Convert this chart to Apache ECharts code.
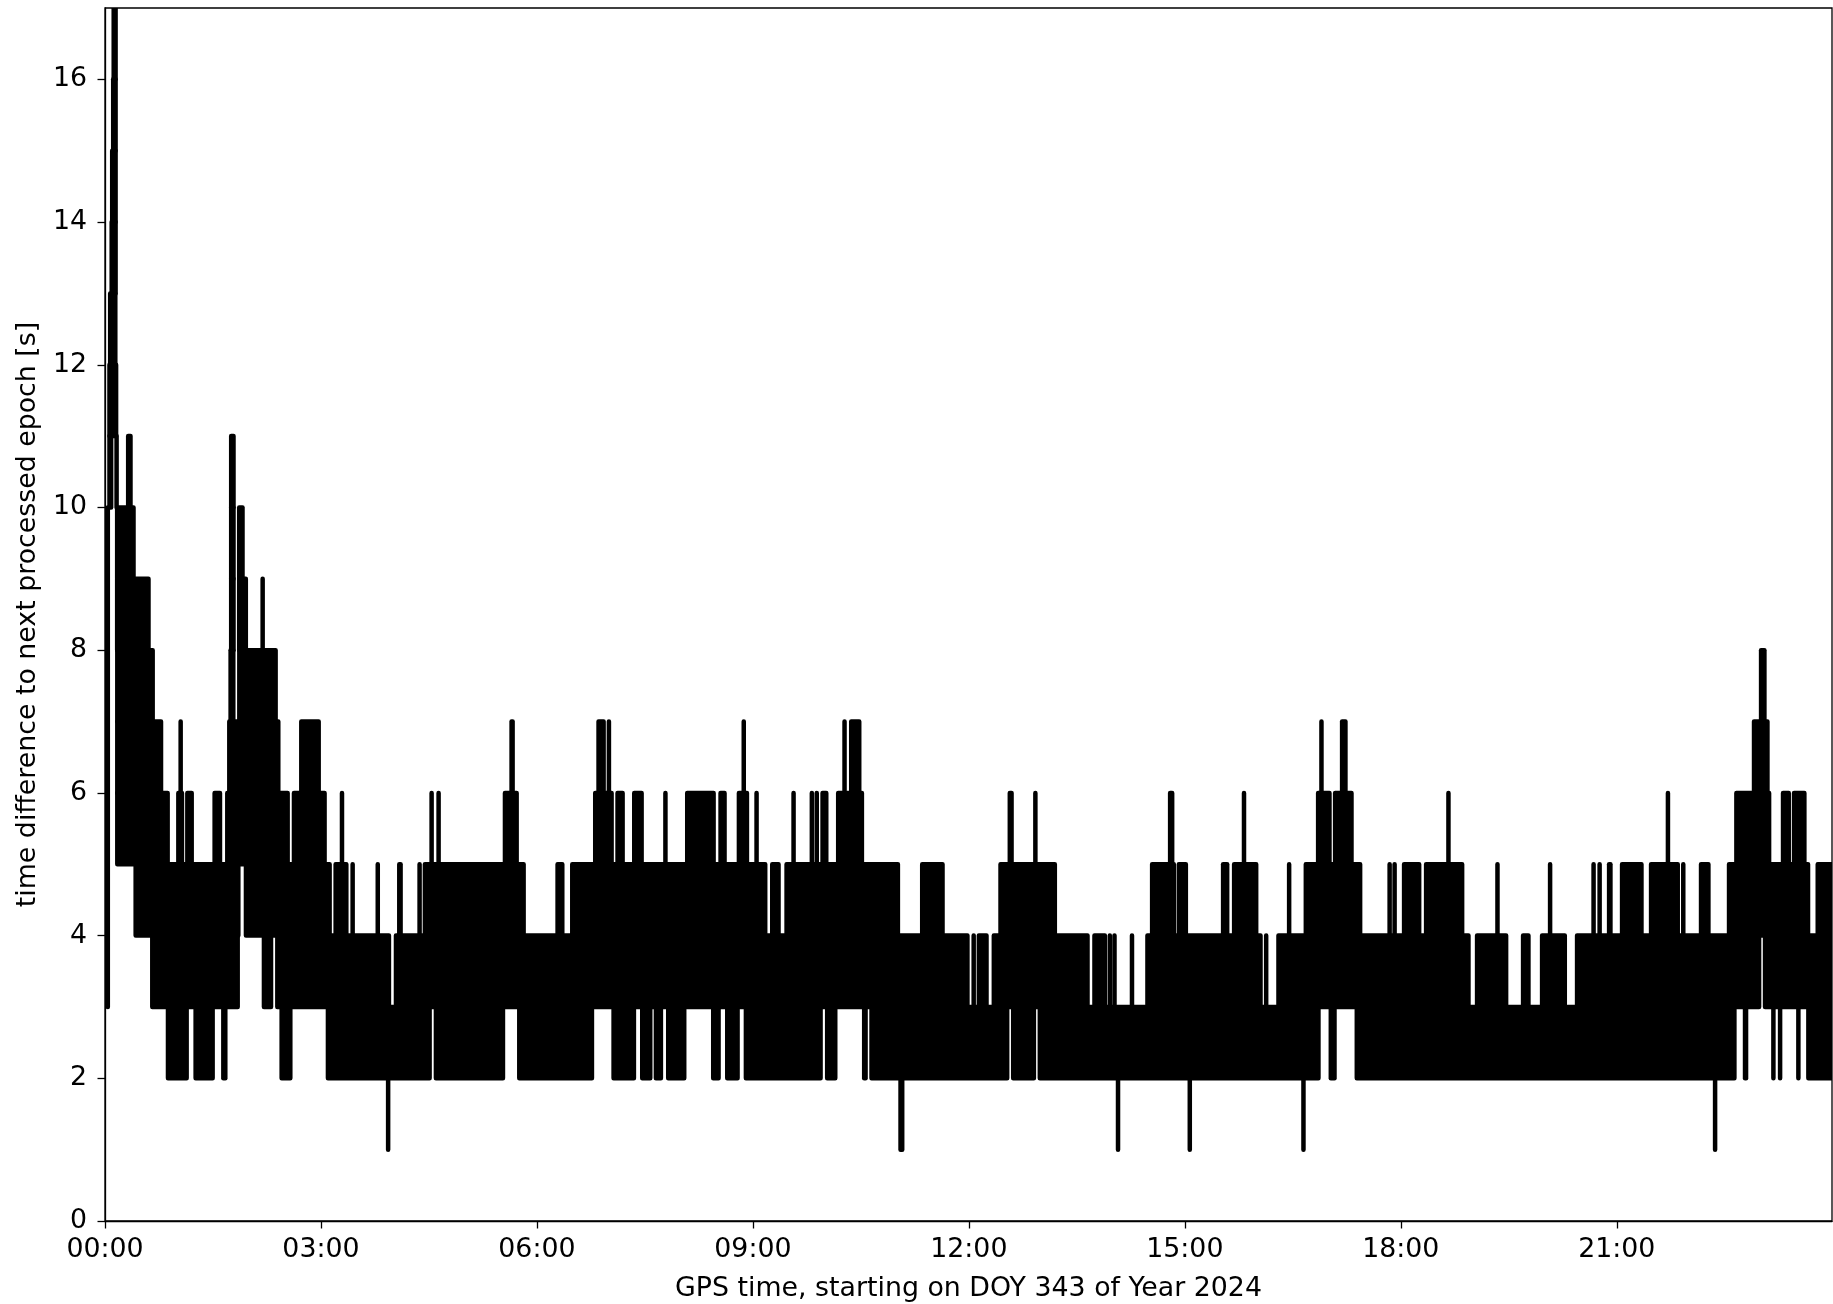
<!DOCTYPE html>
<html>
<head>
<meta charset="utf-8">
<style>html,body{margin:0;padding:0;background:#fff}#chart{width:1833px;height:1304px}</style>
<script src="https://cdn.jsdelivr.net/npm/echarts@6/dist/echarts.min.js"></script>
</head>
<body>
<div id="chart"></div>
<script>
// Axis ticks
const xTicks = [0, 3, 6, 9, 12, 15, 18, 21];
const yTicks = [0, 2, 4, 6, 8, 10, 12, 14, 16];
const xTitle = 'GPS time, starting on DOY 343 of Year 2024';
const yTitle = 'time difference to next processed epoch [s]';

// Time spans (hours) in which the trace sweeps through each one-second band,
// read from the picture. bandN holds the spans covering values N to N+1.
const band1 = [[3.933,3.933],[11.051,11.074],[14.072,14.072],[15.069,15.069],[16.648,16.648],[22.366,22.366]];
const band2 = [[0.875,1.134],[1.259,1.495],[1.644,1.671],[2.454,2.574],[3.097,4.509],[4.597,5.528],[5.755,6.764],[7.065,7.347],[7.463,7.574],[7.653,7.722],[7.824,8.046],[8.449,8.523],[8.644,8.787],[8.903,9.94],[10.032,10.144],[10.546,10.565],[10.648,12.532],[12.616,12.903],[12.986,16.856],[17.028,17.079],[17.389,22.634],[22.782,22.796],[23.176,23.176],[23.269,23.269],[23.523,23.523],[23.662,23.98]];
const band3 = [[0.039,0.039],[0.657,1.843],[2.208,2.306],[2.394,3.944],[4.042,11.98],[12.067,12.067],[12.139,12.245],[12.347,13.648],[13.745,13.889],[13.958,13.958],[14.023,14.023],[14.266,14.266],[14.481,16.051],[16.13,16.13],[16.301,18.94],[19.06,19.463],[19.699,19.773],[19.963,20.278],[20.449,22.977],[23.06,23.98]];
const band4 = [[0.039,0.039],[0.426,1.852],[1.958,3.12],[3.204,3.352],[3.44,3.44],[3.789,3.789],[4.088,4.106],[4.37,4.37],[4.444,5.815],[6.287,6.352],[6.491,9.171],[9.269,9.356],[9.468,11.014],[11.352,11.634],[12.44,13.194],[14.546,14.847],[14.917,15.014],[15.532,15.588],[15.685,15.991],[16.449,16.449],[16.681,17.435],[17.845,17.845],[17.914,17.914],[18.046,18.255],[18.352,18.852],[19.343,19.343],[20.074,20.074],[20.678,20.678],[20.762,20.762],[20.894,20.912],[21.074,21.343],[21.477,21.847],[21.924,21.924],[22.171,22.273],[22.56,23.657],[23.792,23.98]];
const band5 = [[0.039,0.039],[0.171,0.87],[1.019,1.069],[1.144,1.204],[1.523,1.597],[1.699,2.537],[2.625,3.05],[3.292,3.292],[4.537,4.537],[4.634,4.634],[5.556,5.718],[6.81,7.037],[7.12,7.19],[7.352,7.454],[7.785,7.785],[8.088,8.454],[8.551,8.606],[8.806,8.917],[9.051,9.051],[9.565,9.565],[9.819,9.819],[9.887,9.887],[9.968,10.019],[10.185,10.514],[12.569,12.593],[12.924,12.924],[14.796,14.824],[15.822,15.822],[16.852,17.009],[17.088,17.315],[18.662,18.662],[21.711,21.711],[22.662,23.116],[23.31,23.389],[23.463,23.606]];
const band6 = [[0.039,0.039],[0.171,0.778],[1.051,1.051],[1.727,2.407],[2.727,2.968],[5.648,5.662],[6.856,6.926],[7.0,7.0],[8.873,8.873],[10.273,10.273],[10.366,10.477],[16.898,16.898],[17.185,17.231],[22.907,23.093]];
const band7 = [[0.039,0.039],[0.171,0.662],[1.745,1.782],[1.866,2.37],[23.005,23.051]];
const band8 = [[0.039,0.039],[0.169,0.604],[1.753,1.785],[1.864,1.956],[2.19,2.19]];
const band9 = [[0.039,0.039],[0.169,0.396],[1.753,1.785],[1.864,1.91]];
const band10 = [[0.0625,0.085],[0.161,0.161],[0.322,0.354],[1.753,1.785]];
const band11 = [[0.0625,0.154]];
const band12 = [[0.072,0.143]];
const band13 = [[0.093,0.147]];
const band14 = [[0.1,0.147]];
const band15 = [[0.114,0.147]];
const band16 = [[0.121,0.147]];

const bands = {1:band1,2:band2,3:band3,4:band4,5:band5,6:band6,7:band7,8:band8,9:band9,10:band10,11:band11,12:band12,13:band13,14:band14,15:band15,16:band16};
const traceData = [];
Object.keys(bands).forEach(function (k) {
  bands[k].forEach(function (s) { traceData.push([s[0], s[1], +k, +k + 1]); });
});

const FONT = '"DejaVu Sans"';
const chart = echarts.init(document.getElementById('chart'), null, {renderer: 'canvas'});
chart.setOption({
  animation: false,
  backgroundColor: '#fff',
  grid: {left: 105, right: 1, top: 8, bottom: 83, show: true, borderColor: '#000', borderWidth: 1.3, containLabel: false, outerBoundsMode: 'none'},
  xAxis: {
    type: 'value', min: 0, max: 23.99,
    name: xTitle, nameLocation: 'middle', nameGap: 55,
    nameTextStyle: {fontFamily: FONT, fontSize: 26.8, color: '#000'},
    splitLine: {show: false},
    axisLine: {show: true, onZero: false, lineStyle: {color: '#000', width: 1.3}},
    axisTick: {show: true, length: 7.5, lineStyle: {color: '#000', width: 1.3}, customValues: xTicks},
    axisLabel: {
      show: true, margin: 16, fontFamily: FONT, fontSize: 26.8, color: '#000',
      customValues: xTicks,
      formatter: function (v) { return String(Math.round(v)).padStart(2, '0') + ':00'; }
    }
  },
  yAxis: {
    type: 'value', min: 0, max: 17,
    name: yTitle, nameLocation: 'middle', nameGap: 60,
    nameTextStyle: {fontFamily: FONT, fontSize: 26.8, color: '#000'},
    splitLine: {show: false},
    axisLine: {show: true, onZero: false, lineStyle: {color: '#000', width: 1.3}},
    axisTick: {show: true, length: 7.5, lineStyle: {color: '#000', width: 1.3}, customValues: yTicks},
    axisLabel: {show: true, margin: 18, padding: [7, 0, 0, 0], fontFamily: FONT, fontSize: 26.8, color: '#000', customValues: yTicks}
  },
  series: [{
    type: 'custom',
    clip: true,
    silent: true,
    data: traceData,
    encode: {x: [0, 1], y: [2, 3]},
    renderItem: function (params, api) {
      const a = api.coord([api.value(0), api.value(3)]);
      const b = api.coord([api.value(1), api.value(2)]);
      return {
        type: 'rect',
        shape: {x: a[0], y: a[1], width: b[0] - a[0], height: b[1] - a[1]},
        style: {fill: '#000', stroke: '#000', lineWidth: 4.5, lineJoin: 'round'}
      };
    }
  }]
});
</script>
</body>
</html>
